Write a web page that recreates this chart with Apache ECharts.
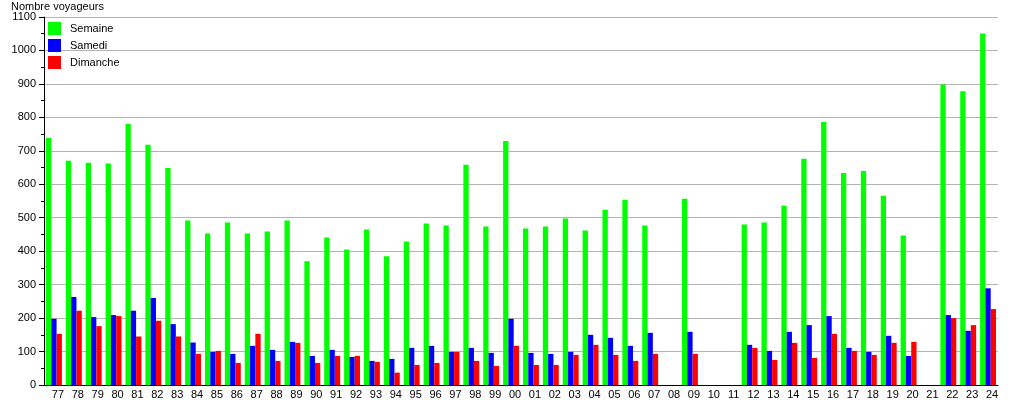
<!DOCTYPE html>
<html>
<head>
<meta charset="utf-8">
<script src="https://cdn.jsdelivr.net/npm/echarts@6/dist/echarts.min.js"></script>
<style>html,body{margin:0;padding:0;background:#fff}#c{width:1015px;height:400px}</style>
</head>
<body>
<div id="c"></div>
<script>
const categories = ['77','78','79','80','81','82','83','84','85','86','87','88','89','90','91','92','93','94','95','96','97','98','99','00','01','02','03','04','05','06','07','08','09','10','11','12','13','14','15','16','17','18','19','20','21','22','23','24'];
const semaine = [738,670,664,662,780,718,649,492,453,486,453,459,492,370,441,405,465,385,429,483,477,658,474,729,468,474,498,462,524,554,477,null,557,null,null,480,486,536,676,786,634,640,566,447,null,898,878,1051];
const samedi  = [198,263,203,209,222,260,182,127,99,93,117,105,129,87,105,84,72,78,111,117,99,111,96,198,96,93,99,150,141,117,156,null,159,null,null,120,102,159,179,206,111,99,147,87,null,209,162,289];
const dimanche= [153,222,176,206,145,192,145,93,102,66,153,72,126,66,87,87,69,37,60,66,99,72,57,117,60,60,90,120,90,72,93,null,93,null,null,111,75,126,81,153,102,90,126,129,null,200,179,227];
const seriesNames = ['Semaine','Samedi','Dimanche'];
const yTicks = {min:0, max:1100, step:100};

const chart = echarts.init(document.getElementById('c'), null, {renderer:'canvas'});
const font = 'Liberation Sans, Arial, sans-serif';
chart.setOption({
  animation:false,
  backgroundColor:'#fff',
  color:['#00ff00','#0000ff','#ff0000'],
  title:{text:'Nombre voyageurs', left:11, top:1, padding:0, textStyle:{fontSize:11, fontWeight:'normal', color:'#000', fontFamily:font}},
  legend:{
    orient:'vertical', left:48, top:22, padding:0, icon:'rect', itemWidth:13, itemHeight:13, itemGap:4,
    data:seriesNames,
    textStyle:{fontSize:11, color:'#000', fontFamily:font, padding:[0,0,0,4]}
  },
  grid:{left:44, right:17, top:17, bottom:12, containLabel:false},
  xAxis:{
    type:'category', data:categories,
    axisLine:{lineStyle:{color:'#000', width:1}},
    axisTick:{show:false},
    axisLabel:{color:'#000', fontSize:11, fontFamily:font, margin:4, interval:0, padding:[0,0,0,8]},
    splitLine:{show:false}
  },
  yAxis:{
    type:'value', min:yTicks.min, max:yTicks.max, interval:yTicks.step,
    axisLine:{show:true, lineStyle:{color:'#000', width:1}},
    axisTick:{show:true, length:5, lineStyle:{color:'#000'}},
    minorTick:{show:true, splitNumber:2, length:3, lineStyle:{color:'#000'}},
    axisLabel:{color:'#000', fontSize:11, fontFamily:font, margin:8, formatter:function(v){return String(v);}},
    splitLine:{show:true, lineStyle:{color:'#b4b4b4', width:1}}
  },
  series:[
    {name:seriesNames[0], type:'bar', data:semaine, barGap:'0%', barCategoryGap:'20%'},
    {name:seriesNames[1], type:'bar', data:samedi, barGap:'0%', barCategoryGap:'20%'},
    {name:seriesNames[2], type:'bar', data:dimanche, barGap:'0%', barCategoryGap:'20%'}
  ]
});
</script>
</body>
</html>
